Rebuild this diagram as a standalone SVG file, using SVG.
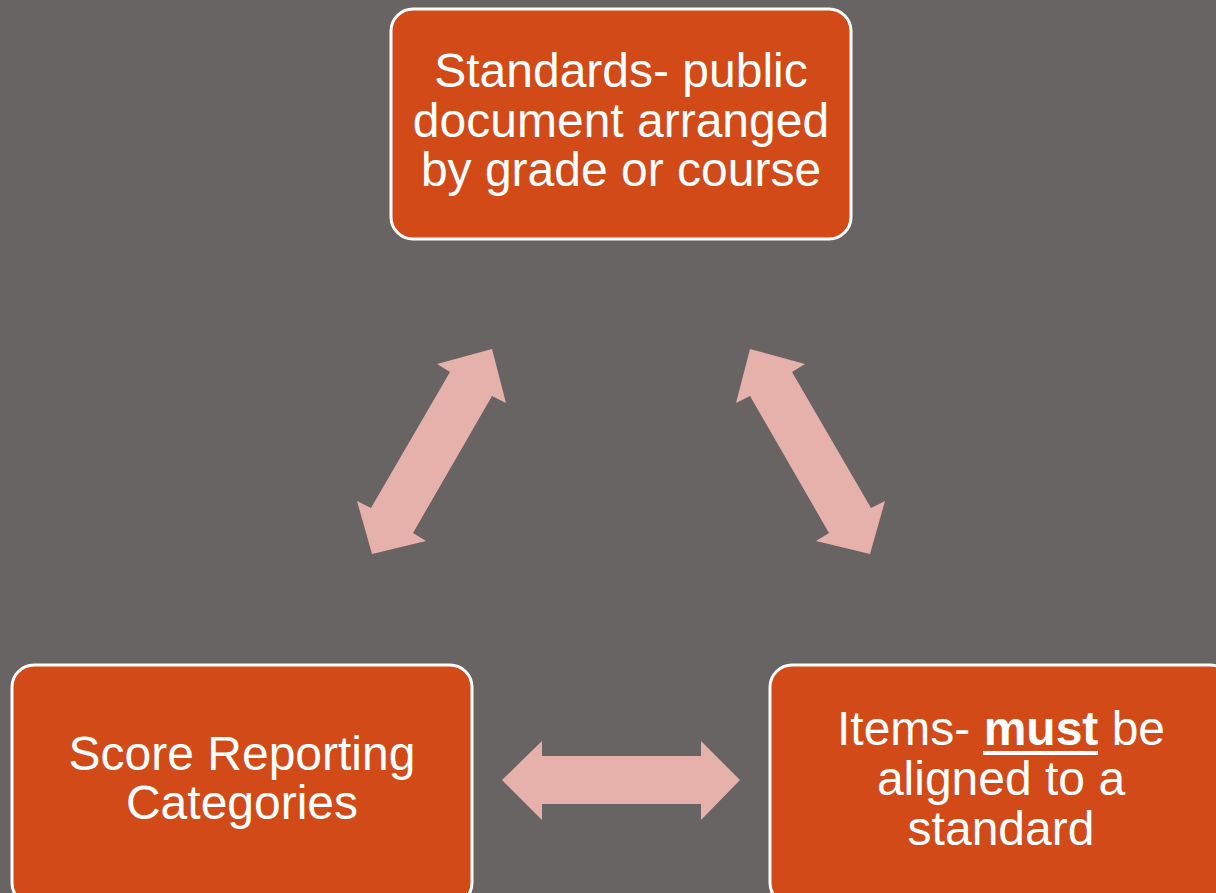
<svg xmlns="http://www.w3.org/2000/svg" width="1216" height="893" viewBox="0 0 1216 893">
<style>
.box{fill:#D14A18;stroke:#FFFFFF;stroke-width:3}
.t{font-family:"Liberation Sans",Arial,sans-serif;font-size:48px;fill:#FFFFFF;text-anchor:middle}
.arr{fill:#E6B1AB}
</style>
<rect width="1216" height="893" fill="#686463"/>
<g id="connectors">
<polygon class="arr" points="492,349 506,403 492,396 413,533 426,541 372,554 357,501 371,508 450,372 437,364"/>
<polygon class="arr" points="750,349 736,403 750,396 829,533 816,541 870,554 885,501 871,508 792,372 805,364"/>
<polygon class="arr" points="502,780 542,741 542,756 701,756 701,741 740,780 701,820 701,804 542,804 542,820"/>
</g>
<g id="standards">
<rect class="box" x="391" y="9" width="460" height="230" rx="22"/>
<text class="t" x="621" y="87">Standards- public</text>
<text class="t" x="621" y="137">document arranged</text>
<text class="t" x="621" y="186">by grade or course</text>
</g>
<g id="score">
<rect class="box" x="12" y="665" width="460" height="240" rx="22"/>
<text class="t" x="242" y="770">Score Reporting</text>
<text class="t" x="242" y="819">Categories</text>
</g>
<g id="items">
<rect class="box" x="770" y="665" width="462" height="240" rx="22"/>
<text class="t" x="1001" y="745">Items- <tspan font-weight="bold">must</tspan> be</text>
<rect x="983" y="751" width="115" height="4" fill="#FFFFFF"/>
<text class="t" x="1001" y="795">aligned to a</text>
<text class="t" x="1001" y="845">standard</text>
</g>
</svg>
